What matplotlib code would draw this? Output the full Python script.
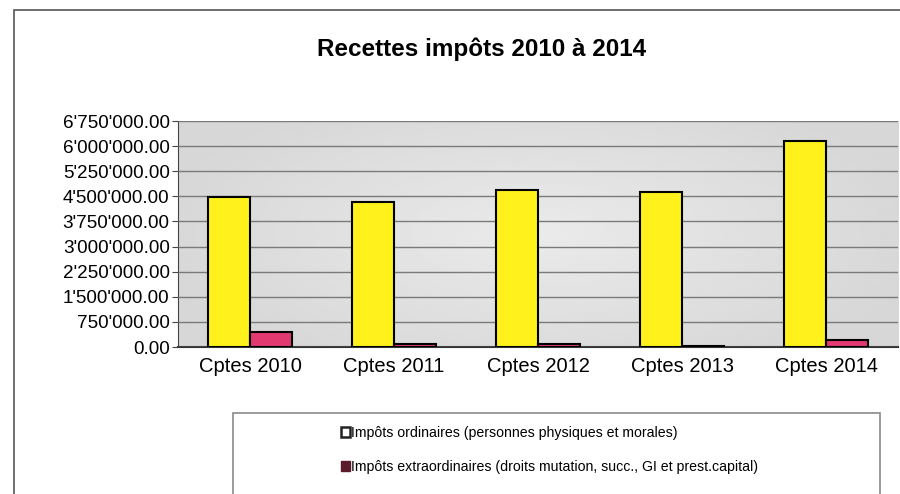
import numpy as np
import matplotlib.pyplot as plt
from matplotlib.patches import Patch, Rectangle
from matplotlib.ticker import FuncFormatter

plt.rcParams["font.family"] = ["Liberation Sans", "DejaVu Sans"]

# data
categories = ["Cptes 2010", "Cptes 2011", "Cptes 2012", "Cptes 2013", "Cptes 2014"]
ordinaires = [4480000, 4330000, 4700000, 4630000, 6140000]
extraordinaires = [460000, 90000, 95000, 40000, 220000]
series_labels = [
    "Impôts ordinaires (personnes physiques et morales)",
    "Impôts extraordinaires (droits mutation, succ., GI et prest.capital)",
]
yticks = np.arange(0, 6750001, 750000)

fig = plt.figure(figsize=(9, 4.94), dpi=100)

# outer chart frame (scanned page border)
fig.add_artist(Rectangle((14 / 900, -0.1), 0.99, 1 - 10 / 494 + 0.1,
                         transform=fig.transFigure, fill=False,
                         edgecolor="#555555", linewidth=1.2))

ax = fig.add_axes([178 / 900, 1 - 347 / 494, 720 / 900, 226 / 494])
ax.set_facecolor("#d8d8d8")

# soft light gradient in the plot area, lighter towards the middle
gx = np.linspace(-1, 1, 200)
gy = np.linspace(-1, 1, 100)
GX, GY = np.meshgrid(gx, gy)
shade = 0.84 + 0.08 * (1 - np.clip(np.sqrt(GX ** 2 * 0.8 + GY ** 2 * 0.5), 0, 1))
ax.imshow(shade, cmap="gray", vmin=0, vmax=1, aspect="auto",
          extent=[0, 1, 0, 1], transform=ax.transAxes, zorder=0)

x = np.arange(len(categories))
w = 0.29
ax.bar(x - w / 2, ordinaires, w, color="#fff21c", edgecolor="black", linewidth=1.5, zorder=3)
ax.bar(x + w / 2, extraordinaires, w, color="#e23a70", edgecolor="black", linewidth=1.5, zorder=3)

ax.set_xlim(-0.5, 4.5)
ax.set_ylim(0, 6750000)
ax.set_yticks(yticks)
ax.yaxis.set_major_formatter(FuncFormatter(lambda v, p: f"{v:,.2f}".replace(",", "'")))
ax.set_xticks(x)
ax.set_xticklabels(categories)
ax.tick_params(axis="y", labelsize=13.6, length=4, color="#444444", pad=2)
ax.tick_params(axis="x", labelsize=14.5, length=0, pad=7)
ax.yaxis.grid(True, color="#7a7a7a", linewidth=1, zorder=1)
ax.set_axisbelow(False)
for s in ["top", "right"]:
    ax.spines[s].set_visible(False)
ax.spines["left"].set_color("#444444")
ax.spines["bottom"].set_color("#333333")
ax.spines["bottom"].set_linewidth(1.5)

fig.text(482 / 900, 1 - 49 / 494, "Recettes impôts 2010 à 2014", ha="center", va="center",
         fontsize=17.5, fontweight="bold")

# legend box
fig.add_artist(Rectangle((233 / 900, -0.05), 647 / 900, 81 / 494 + 0.05,
                         transform=fig.transFigure, fill=True, facecolor="white",
                         edgecolor="#8a8a8a", linewidth=1.2))
handles = [Patch(facecolor="white", edgecolor="#222222", linewidth=1.8),
           Patch(facecolor="#5a1a2a", edgecolor="#5a1a2a")]
fig.legend(handles, series_labels, loc="center left", bbox_to_anchor=(334 / 900, 1 - 450 / 494),
           frameon=False, fontsize=10.2, handlelength=0.6, handleheight=0.7,
           handletextpad=0.1, labelspacing=1.4, borderpad=0)

fig.savefig("out.png", dpi=100)
